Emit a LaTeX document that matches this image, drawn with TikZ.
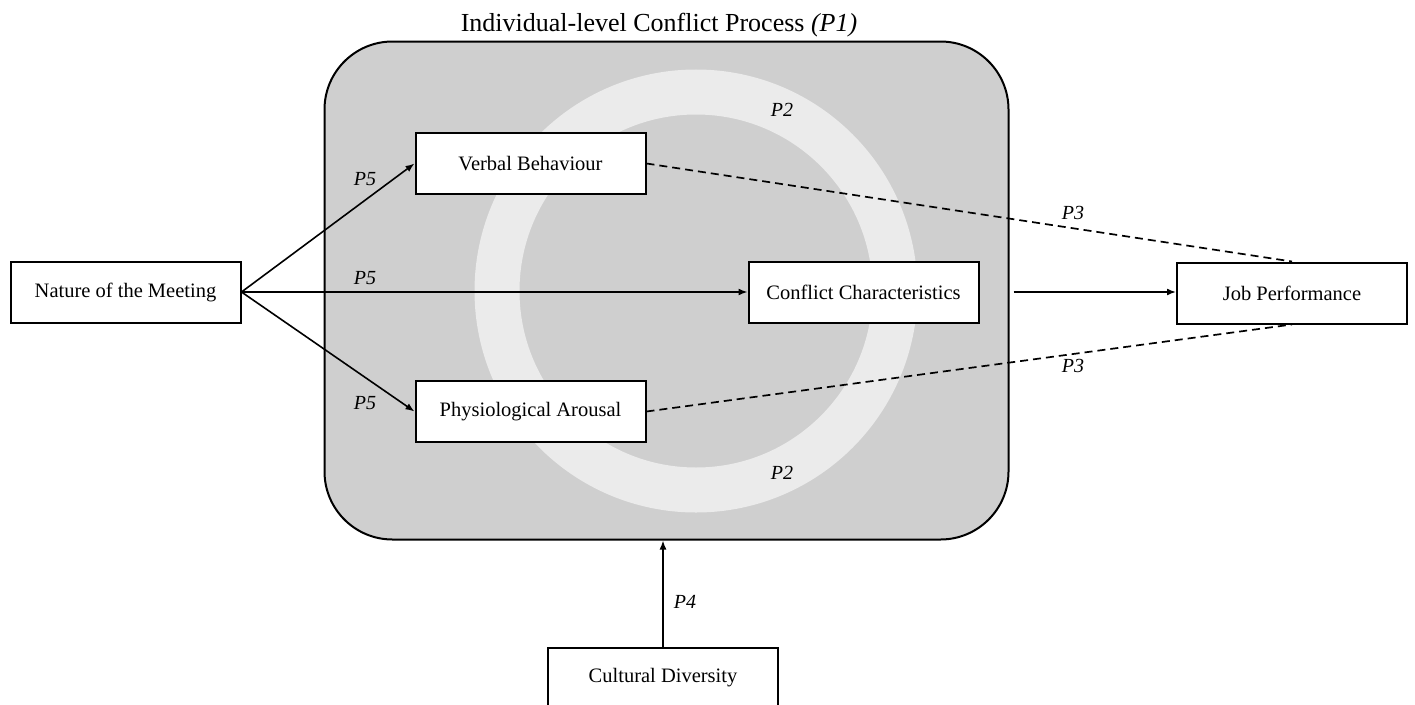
\documentclass[tikz,border=0pt]{standalone}
\usepackage{fontspec}
\setmainfont{Liberation Serif}
\usetikzlibrary{arrows.meta,calc}
\definecolor{procgray}{HTML}{CFCFCF}
\definecolor{ringgray}{HTML}{EBEBEB}
\begin{document}
\begin{tikzpicture}[x=1pt,y=-1pt,
  box/.style={draw,line width=2pt,fill=white,minimum width=230pt,minimum height=61pt,inner sep=0pt,font=\fontsize{20.5}{24}\selectfont},
  lab/.style={font=\fontsize{20}{24}\selectfont\itshape,inner sep=0pt},
  arr/.style={line width=1.6pt,-{Latex[length=9pt,width=7pt]}},
  dsh/.style={line width=1.7pt,dash pattern=on 8pt off 5pt}]
\useasboundingbox (0,0) rectangle (1415,704);
\node[draw,line width=2pt,fill=procgray,rounded corners=68pt,minimum width=684pt,minimum height=498pt,inner sep=0pt] (proc) at (666.5,290.5) {};
\draw[ringgray,line width=45pt] (696,291) circle[radius=199pt];
\node[anchor=base,font=\fontsize{26}{30}\selectfont,inner sep=0pt] (title) at (659,31) {Individual-level Conflict Process \textit{(P1)}};
\node[box] (nat) at (125.5,292) {Nature of the Meeting};
\node[box] (vb) at (530.5,163.5) {Verbal Behaviour};
\node[box] (pa) at (530.5,411.5) {Physiological Arousal};
\node[box] (cc) at (863.5,292) {Conflict Characteristics};
\node[box] (jp) at (1292,293) {Job Performance};
\node[box] (cd) at (663,678) {Cultural Diversity};
\draw[arr] (nat.east) -- (vb.west);
\draw[arr] (nat.east) -- (cc.west);
\draw[arr] (nat.east) -- (pa.west);
\draw[dsh] (vb.east) -- (jp.north);
\draw[dsh] (pa.east) -- (jp.south);
\draw[arr] ($(proc.east |- cc.east)+(4,0)$) -- (jp.west |- cc.east);
\draw[arr] (cd.north) -- (cd.north |- proc.south);
\node[lab] (l5a) at (365,179) {P5};
\node[lab] (l5b) at (365,278) {P5};
\node[lab] (l5c) at (365,403) {P5};
\node[lab] (l2a) at (782,110) {P2};
\node[lab] (l2b) at (782,473) {P2};
\node[lab] (l3a) at (1073,213) {P3};
\node[lab] (l3b) at (1073,366) {P3};
\node[lab] (l4) at (685,602) {P4};
\end{tikzpicture}
\end{document}
